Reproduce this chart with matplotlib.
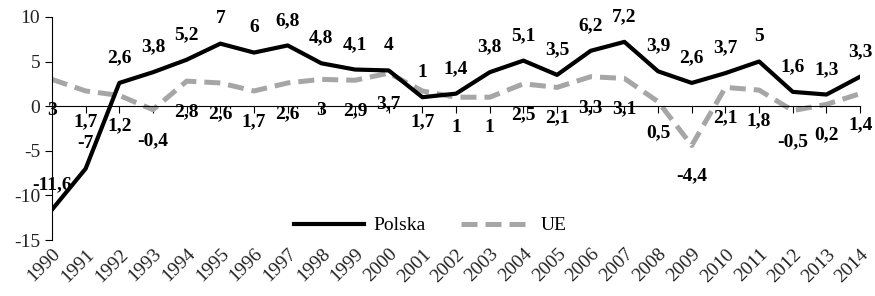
import matplotlib
matplotlib.use("Agg")
import matplotlib.pyplot as plt

plt.rcParams['font.family'] = ['Liberation Serif', 'DejaVu Serif']
plt.rcParams['axes.unicode_minus'] = False

years = list(range(1990, 2015))
polska = [-11.6, -7, 2.6, 3.8, 5.2, 7, 6, 6.8, 4.8, 4.1, 4, 1, 1.4, 3.8, 5.1,
          3.5, 6.2, 7.2, 3.9, 2.6, 3.7, 5, 1.6, 1.3, 3.3]
ue = [3, 1.7, 1.2, -0.4, 2.8, 2.6, 1.7, 2.6, 3, 2.9, 3.7, 1.7, 1, 1, 2.5,
      2.1, 3.3, 3.1, 0.5, -4.4, 2.1, 1.8, -0.5, 0.2, 1.4]
yticks = [-15, -10, -5, 0, 5, 10]


def fmt(v):
    s = ('%g' % v).replace('.', ',')
    return s


fig = plt.figure(figsize=(8.75, 2.96), dpi=100)
ax = fig.add_axes([0.0594, 0.189, 0.9236, 0.754])

ax.plot(years, ue, color='#a6a6a6', lw=3.6, ls=(0, (3.2, 1.6)), label='UE',
        solid_capstyle='butt', dash_capstyle='butt', zorder=2)
ax.plot(years, polska, color='black', lw=3.0, label='Polska', zorder=3)

for x, v in zip(years, polska):
    ax.annotate(fmt(v), (x, v), xytext=(0, 12), textcoords='offset points',
                ha='center', va='bottom', fontsize=14, fontweight='bold')
for x, v in zip(years, ue):
    ax.annotate(fmt(v), (x, v), xytext=(0, -16), textcoords='offset points',
                ha='center', va='top', fontsize=14, fontweight='bold')

ax.set_xlim(years[0], years[-1])
ax.set_ylim(-15, 10)
ax.set_yticks(yticks)
ax.tick_params(axis='y', direction='out', length=5, labelsize=14, width=0.8,
               labelcolor='#222222')

ax.spines['top'].set_visible(False)
ax.spines['right'].set_visible(False)
ax.spines['bottom'].set_position(('data', 0))
ax.set_xticks(years)
ax.tick_params(axis='x', direction='out', length=5, labelbottom=False, width=0.8)

sec = ax.secondary_xaxis('bottom')
sec.spines['bottom'].set_visible(False)
sec.set_xticks(years, labels=[str(y) for y in years], rotation=45, ha='right',
               va='top', rotation_mode='anchor', fontsize=14, color='#222222')
sec.tick_params(length=0, pad=4)

handles, labels = ax.get_legend_handles_labels()
ax.legend(handles[::-1], labels[::-1], loc='center', bbox_to_anchor=(0.468, 0.065),
          ncol=2, frameon=False, fontsize=14, handlelength=3.6, columnspacing=1.8,
          handletextpad=0.5)

fig.savefig('out.png', dpi=100)
